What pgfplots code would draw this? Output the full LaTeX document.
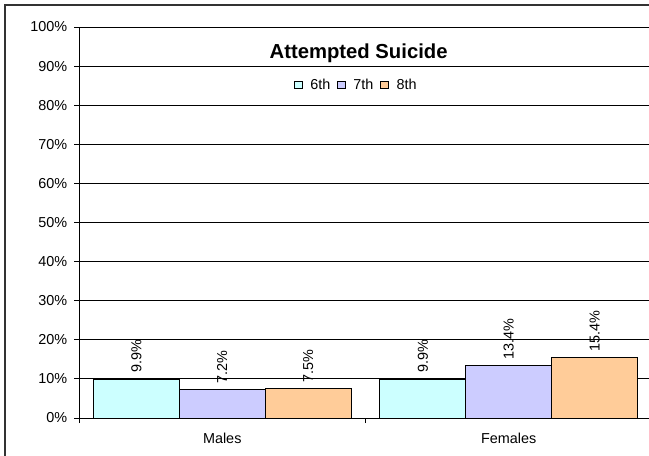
\documentclass[border=0pt]{standalone}
\usepackage{fontspec}
\setmainfont{Liberation Sans}
\usepackage{pgfplots}
\pgfplotsset{compat=1.18}
\definecolor{c6}{HTML}{CCFFFF}
\definecolor{c7}{HTML}{CCCCFF}
\definecolor{c8}{HTML}{FFCC99}
\pgfplotsset{mylegend/.style={legend image code/.code={\draw[##1,draw=black,line width=0.6pt] (0pt,-2.85pt) rectangle (5.7pt,2.85pt);}}}
\begin{document}
\begin{tikzpicture}
\begin{scope}
\clip (0pt,0pt) rectangle (486.75pt,-341.25pt);
\draw[line width=0.9pt, black!80] (3.75pt,-3.75pt) rectangle (600pt,-500pt);
\begin{axis}[
  at={(59.25pt,-313.5pt)}, anchor=south west,
  scale only axis, width=429.75pt, height=293.25pt,
  xmin=-0.5, xmax=1.5, ymin=0, ymax=100,
  axis lines*=left,
  axis line style={black, line width=0.75pt},
  ytick={0,10,...,100},
  yticklabel={\pgfmathprintnumber{\tick}\%},
  xtick={-0.5,0.5,1.5}, xticklabels={},
  extra x ticks={0,1},
  extra x tick labels={Males,Females},
  extra x tick style={major tick length=0pt, xticklabel style={yshift=-7.5pt}},
  tick align=outside, major tick length=3.75pt,
  tick style={black, line width=0.75pt},
  ymajorgrids, grid style={black, line width=0.75pt},
  tick label style={font=\fontsize{10.8}{12}\selectfont},
  yticklabel style={xshift=-1.5pt},
  /pgf/number format/assume math mode=true,
  ybar, bar width=0.3,
  nodes near coords={\pgfmathprintnumber[fixed,precision=1,fixed zerofill]{\pgfplotspointmeta}\%},
  every node near coord/.append style={rotate=90, anchor=west, inner sep=4.5pt, font=\fontsize{10.8}{12}\selectfont, black},
  legend style={at={(axis cs:0.469,85.2)}, anchor=center, draw=none, fill=none,
    legend columns=3, font=\fontsize{10.8}{12}\selectfont,
    /tikz/every even column/.append style={column sep=3pt},
    /tikz/every odd column/.append style={column sep=4pt}},
]
\addplot[fill=c6, draw=black, line width=0.75pt, bar shift=-0.3, mylegend] coordinates {(0,9.9) (1,9.9)};
\addlegendentry{6th}
\addplot[fill=c7, draw=black, line width=0.75pt, bar shift=0, mylegend] coordinates {(0,7.2) (1,13.4)};
\addlegendentry{7th}
\addplot[fill=c8, draw=black, line width=0.75pt, bar shift=0.3, mylegend] coordinates {(0,7.5) (1,15.4)};
\addlegendentry{8th}
\node[font=\bfseries\fontsize{15.2}{17}\selectfont] at (axis cs:0.476,93.4) {Attempted Suicide};
\end{axis}
\end{scope}
\pgfresetboundingbox
\useasboundingbox (0pt,0pt) rectangle (486.75pt,-341.25pt);
\end{tikzpicture}
\end{document}
